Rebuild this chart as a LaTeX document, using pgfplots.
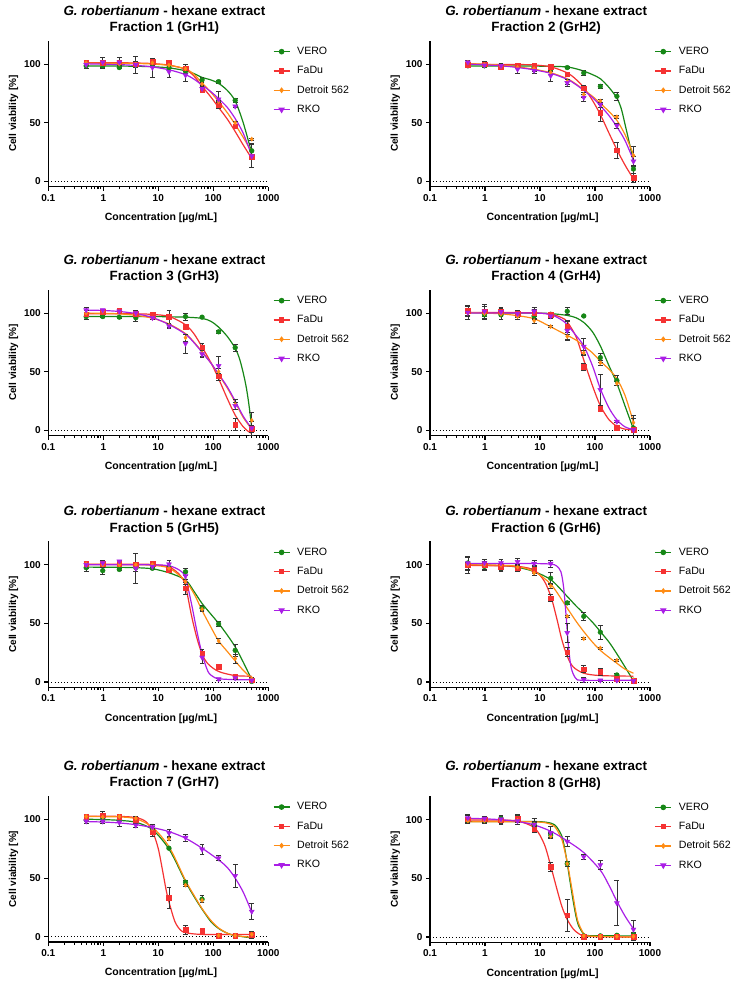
\documentclass[border=0pt]{standalone}
\usepackage{fontspec}
\setmainfont{Liberation Sans}
\usepackage{pgfplots}
\usepackage{pgfplotstable}
\pgfplotsset{compat=1.18}

\definecolor{cV}{RGB}{22,135,22}
\definecolor{cF}{RGB}{245,50,50}
\definecolor{cD}{RGB}{255,140,20}
\definecolor{cR}{RGB}{170,30,230}

% lx = log10 of the concentration (ug/mL); V/F/D/R = VERO, FaDu, Detroit 562, RKO (mean, error)
\pgfplotstableread{
lx V Ve F Fe D De R Re
-0.3116 98.5 2 101.5 2 101 2 99.5 3
-0.0101 98.5 2 101 1 101 1 101.5 4
0.2907 97 1 101.5 1 100 1 101.5 4
0.5918 99 2 100 1 100 2 99.5 7
0.8928 100 1 102 2 101 2 97 8
1.1939 97 1 101.5 1 99 1 93.5 5
1.4949 94 2 96.5 3 96 1 90.5 5
1.7959 86.5 2 78 2 83 2 79 3
2.0969 85 1.5 65 3 68 1 70 7
2.3979 69 1.5 47 1.5 50 1 64 1
2.6990 26 6 21 2 36 1 21.5 10
}\tabA
\pgfplotstableread{
lx V Ve F Fe D De R Re
-0.3116 98.5 1 99.5 1 101.5 2 101.5 2
-0.0101 98.5 1 100 2 99.5 2 99 2
0.2907 98 1 98 2 98 1 98.5 2
0.5918 97.5 1 99 1 97 1 95.5 3
0.8928 97 1 98.5 1 96 2 94.5 2
1.1939 96 2 98 1 93 2 90 5
1.4949 97 1 91.5 1 85 2 84 3
1.7959 92.5 2 79.5 2 74 2 71.5 3
2.0969 81 1.5 58.5 7 68.5 1 65.5 2
2.3979 72.5 3.5 26.5 7 55 1 47.5 2
2.6990 10.5 3.5 3 4 22 8 17 4
}\tabB
\pgfplotstableread{
lx V Ve F Fe D De R Re
-0.3116 97 2 99 2 100 2 102.5 2
-0.0101 97 1 101 1 101.5 1 102.5 1
0.2907 96.5 1 102 2 101 1 101.5 1
0.5918 96 3 99.5 1 99.5 2 100 2
0.8928 98 1 98.5 1 95.5 1 96 1
1.1939 96.5 6 97 2 89.5 2 89 2
1.4949 97 3 88.5 2 79 3 74 8
1.7959 96.5 1 71 3 66 3 65 3
2.0969 84 1 46 3 50 3 55 8
2.3979 70.5 3 5 5 22 4 21 3
2.6990 1.5 6 1.5 3 8.5 7 2 2
}\tabC
\pgfplotstableread{
lx V Ve F Fe D De R Re
-0.3116 101.5 4 102 4 100 2 100.5 6
-0.0101 98.5 4 101.5 4 99.5 2 101.5 6
0.2907 98.5 4 101.5 3 99 2 101 3
0.5918 98 3 99.5 3 97 2 99.5 3
0.8928 97.5 3 100.5 3 93.5 2 101.5 3
1.1939 99 1 98.5 2 88.5 1 97.5 2
1.4949 101.5 3 88.5 5 80 2 85 8
1.7959 97.5 0 54.5 3 66 2 71.5 7
2.0969 62 4 18.5 2 57.5 2 34.5 13
2.3979 42.5 4 2 2 40 2 7.5 1
2.6990 2 8 0.5 2 6.5 6 0.5 1
}\tabD
\pgfplotstableread{
lx V Ve F Fe D De R Re
-0.3116 97.5 3 101 2 100.5 2 100 3
-0.0101 95 3 101 1 100 2 101.5 2
0.2907 96 1 101 1 100 1 103 1
0.5918 97.5 3 100 1 100 2 97 12.5
0.8928 97 1 101 1 100 1 98.5 1
1.1939 97.5 1 96 1 97 1 100.5 3
1.4949 94 3 80 5 85.5 2 90.5 3
1.7959 63 2 24.5 3 62 2 21 5
2.0969 49.5 2 13 2 35 2 2.5 1
2.3979 27 5 5 1 20 4 3.5 1
2.6990 0.5 1 1.5 1 3 1 1.5 1
}\tabE
\pgfplotstableread{
lx V Ve F Fe D De R Re
-0.3116 101.5 6 99.5 7 100 2 101.5 5
-0.0101 98.5 3 99.5 3 100 2 101.5 3
0.2907 97.5 3 98.5 3 99.5 2 101.5 3
0.5918 97 3 97 3 98 2 102.5 3
0.8928 96.5 3 96 3 93 2 101 3
1.1939 88.5 5 71.5 3 82 2 101 3
1.4949 67.5 1 25.5 4 56 1 42 8
1.7959 56 3 11 3 37 1 2 2
2.0969 42.5 6 9 3 29 1 1.5 1
2.3979 6 1 3 1 18.5 1 1.5 1
2.6990 1.5 1 1 1 1.5 1 1 1
}\tabF
\pgfplotstableread{
lx V Ve F Fe D De R Re
-0.3116 99.5 3 102.5 2 102.5 2 98.5 2
-0.0101 101 3 103.5 3 102 2 98.5 2
0.2907 100 2 102.5 2 102.5 2 97.5 3
0.5918 100 3 100 2 101 2 95 2
0.8928 91 3 89 3 92 2 93.5 2
1.1939 75.5 1 33.5 9 83.5 1 88.5 3
1.4949 46.5 2 6 4 44 1 84.5 3
1.7959 32 3 5 1 31 2 74.5 4
2.0969 1 1 1 1 1 1 67 2
2.3979 1 1 1 1 1 1 52 10
2.6990 2 3 1.5 1 2 1 21.5 7
}\tabG
\pgfplotstableread{
lx V Ve F Fe D De R Re
-0.3116 99.5 2 100.5 3 99 2 101.5 3
-0.0101 99.5 2 100.5 2 99 2 101 2
0.2907 101 2 99.5 3 99 2 100.5 3
0.5918 101.5 3 101 3 99.5 2 99 3
0.8928 96 3 92 3 96 2 96 5
1.1939 87 2 60 4 86 2 89 5
1.4949 62.5 2 18.5 14 62.5 2 81.5 4
1.7959 1 1 0.5 1 1 1 68.5 2
2.0969 1 1 0.5 1 0.5 1 61.5 4
2.3979 1.5 1 0.5 1 0.5 1 29 19
2.6990 2 2 0.5 3 0.5 1 6.5 8
}\tabH

\pgfplotsset{
  legend image code/.code={\draw[mark repeat=2, mark phase=2, #1]
      plot coordinates {(0pt,0pt) (8pt,0pt) (16pt,0pt)};},
}

% #1,#2 lower left corner of the axis box (pt); #3 fraction; #4 table; #5-#8 fitted curves (x in log10)
\newcommand{\panel}[8]{%
\begin{axis}[
    at={(#1pt,#2pt)}, anchor=south west,
    scale only axis, width=220pt, height=146pt,
    xmin=-1, xmax=3, ymin=-4.5, ymax=120,
    axis lines=left, axis line style={-, line width=1.3pt},
    tick align=outside, major tick length=4pt, minor tick length=2.5pt,
    tick style={black, line width=1.1pt},
    xtick={-1,0,1,2,3}, xticklabels={0.1,1,10,100,1000},
    minor xtick={-0.6990,-0.5229,-0.3979,-0.3010,-0.2218,-0.1549,-0.0969,-0.0458,
      0.3010,0.4771,0.6021,0.6990,0.7782,0.8451,0.9031,0.9542,
      1.3010,1.4771,1.6021,1.6990,1.7782,1.8451,1.9031,1.9542,
      2.3010,2.4771,2.6021,2.6990,2.7782,2.8451,2.9031,2.9542},
    ytick={0,50,100}, yticklabels={0,50,100},
    tick label style={font=\bfseries\fontsize{10}{12}\selectfont},
    xlabel={Concentration [µg/mL]}, ylabel={Cell viability [\%]},
    xlabel style={font=\bfseries\fontsize{10.5}{12}\selectfont,
      at={(axis description cs:0.512,-0.213)}, anchor=center},
    ylabel style={font=\bfseries\fontsize{10}{12}\selectfont,
      at={(axis description cs:-0.158,0.5)}, anchor=center},
    title={\textit{G. robertianum} - hexane extract\\Fraction #3 (GrH#3)},
    title style={font=\bfseries\fontsize{13.4}{16.5}\selectfont, align=center,
      at={(axis description cs:0.528,1)}, anchor=south, yshift=-3.3pt},
    legend cell align=left,
    legend style={at={(1,1)}, anchor=north west, xshift=1.5pt, yshift=-3pt,
      draw=none, fill=none, font=\fontsize{10.6}{12}\selectfont,
      row sep=7.6pt, nodes={inner sep=1pt, text height=7.7pt, text depth=2pt},
      /tikz/every odd column/.append style={column sep=6pt}},
  ]
\addplot[black, line width=0.9pt, dash pattern=on 0.9pt off 2.3pt, forget plot] coordinates {(-1,0) (3,0)};
\addplot[cV, line width=1.2pt, no marks, smooth, forget plot] coordinates {#5};
\addplot[cF, line width=1.2pt, no marks, smooth, forget plot] coordinates {#6};
\addplot[cD, line width=1.2pt, no marks, smooth, forget plot] coordinates {#7};
\addplot[cR, line width=1.2pt, no marks, smooth, forget plot] coordinates {#8};
\addplot[cV, only marks, mark=*, mark size=2.4pt, forget plot,
  error bars/.cd, y dir=both, y explicit,
  error bar style={black!80, line width=0.7pt},
  error mark options={rotate=90, mark size=2.4pt, black!80, line width=0.7pt}]
  table[x=lx, y=V, y error=Ve] {#4};
\addplot[cF, only marks, mark=square*, mark size=2.3pt, forget plot,
  error bars/.cd, y dir=both, y explicit,
  error bar style={black!80, line width=0.7pt},
  error mark options={rotate=90, mark size=2.4pt, black!80, line width=0.7pt}]
  table[x=lx, y=F, y error=Fe] {#4};
\addplot[cD, only marks, mark=diamond*, mark size=2.1pt, forget plot,
  error bars/.cd, y dir=both, y explicit,
  error bar style={black!80, line width=0.7pt},
  error mark options={rotate=90, mark size=2.4pt, black!80, line width=0.7pt}]
  table[x=lx, y=D, y error=De] {#4};
\addplot[cR, only marks, mark=triangle*, mark size=2.9pt, mark options={rotate=180}, forget plot,
  error bars/.cd, y dir=both, y explicit,
  error bar style={black!80, line width=0.7pt},
  error mark options={rotate=90, mark size=2.4pt, black!80, line width=0.7pt}]
  table[x=lx, y=R, y error=Re] {#4};
\addlegendimage{cV, line width=1.2pt, mark=*, mark size=2.2pt}\addlegendentry{VERO}
\addlegendimage{cF, line width=1.2pt, mark=square*, mark size=2.1pt}\addlegendentry{FaDu}
\addlegendimage{cD, line width=1.2pt, mark=diamond*, mark size=2pt}\addlegendentry{Detroit 562}
\addlegendimage{cR, line width=1.2pt, mark=triangle*, mark size=2.7pt, mark options={rotate=180}}\addlegendentry{RKO}
\end{axis}}

\begin{document}
\begin{tikzpicture}
\useasboundingbox (0,0) rectangle (731pt,-982pt);

\panel{48.3}{-186.6}{1}{\tabA}
 {(-0.3116,98.4)(0,98.4)(0.3010,98.3)(0.6021,98.1)(0.9031,97.7)(1.2041,96.7)(1.4949,94.3)(1.6532,91.8)(1.7959,88.6)(1.9542,86.5)(2.0969,83.5)(2.2553,77.5)(2.3979,68.5)(2.5441,50)(2.6990,24)}
 {(-0.3116,101.2)(0.3010,101.1)(0.6021,100.9)(0.9031,100.4)(1.2041,99)(1.4949,95.5)(1.6532,89.5)(1.7959,81)(1.9542,72)(2.0969,63)(2.2553,53)(2.3979,42.5)(2.5441,31)(2.6990,19.5)}
 {(-0.3116,100.8)(0.3010,100.7)(0.6021,100.5)(0.9031,100)(1.2041,98.8)(1.4949,96)(1.6532,91)(1.7959,84)(1.9542,76)(2.0969,68)(2.2553,58.5)(2.3979,48.5)(2.5441,37.5)(2.6990,25)}
 {(-0.3116,100.2)(0,99.9)(0.3010,99.5)(0.6021,98.8)(0.9031,97.5)(1.2041,95)(1.4949,91)(1.6532,87)(1.7959,82)(1.9542,76.5)(2.0969,70.5)(2.2553,63)(2.3979,53.5)(2.5441,41)(2.6990,22)}

\panel{430}{-186.6}{2}{\tabB}
 {(-0.3116,98.3)(0.6021,98.3)(1.2041,98.1)(1.4949,97.5)(1.6532,96)(1.7959,94)(1.9542,91)(2.0969,87.5)(2.2553,80)(2.3979,71)(2.4771,62)(2.5441,49)(2.6232,33)(2.6990,17)}
 {(-0.3116,99.8)(0.6021,99.6)(0.9031,99.2)(1.2041,97.5)(1.4949,92.5)(1.6532,87)(1.7959,80)(1.9542,69)(2.0969,57)(2.2553,41)(2.3979,27)(2.5441,14)(2.6990,2)}
 {(-0.3116,100.5)(0,99.8)(0.3010,99)(0.6021,97.5)(0.9031,95.5)(1.2041,92.5)(1.4949,87.5)(1.6532,83)(1.7959,78)(1.9542,72.5)(2.0969,66.5)(2.2553,59.5)(2.3979,52)(2.5441,40)(2.6990,23)}
 {(-0.3116,100)(0,99.3)(0.3010,98.5)(0.6021,97)(0.9031,95)(1.2041,92)(1.4949,87)(1.6532,82.5)(1.7959,77.5)(1.9542,71.5)(2.0969,64.5)(2.2553,56)(2.3979,46.5)(2.5441,35)(2.6990,18)}

\panel{48.3}{-435.6}{3}{\tabC}
 {(-0.3116,97)(0.9031,97)(1.2041,96.8)(1.4949,96.5)(1.7959,95.5)(1.9542,93)(2.0969,88)(2.2553,80)(2.3979,70)(2.4771,61)(2.5441,49)(2.6021,36)(2.6532,20)(2.6990,2)}
 {(-0.3116,99.5)(0.6021,99.3)(0.9031,98.8)(1.2041,97)(1.4949,90)(1.6532,82)(1.7959,71)(1.9542,58)(2.0969,44)(2.2553,27)(2.3979,13)(2.5441,3)(2.6532,-1.5)(2.6990,-2.5)}
 {(-0.3116,100)(0,99.8)(0.3010,99.3)(0.6021,98)(0.9031,95.5)(1.2041,90.5)(1.4949,82.5)(1.6532,75)(1.7959,67)(1.9542,57.5)(2.0969,47.5)(2.2553,36)(2.3979,24)(2.5441,11)(2.6990,1)}
 {(-0.3116,102.5)(0,102.2)(0.3010,101.3)(0.6021,99.5)(0.9031,96)(1.2041,90)(1.4949,82)(1.6532,74.5)(1.7959,66.5)(1.9542,57.5)(2.0969,48)(2.2553,37)(2.3979,25)(2.5441,12)(2.6990,1.5)}

\panel{430}{-435.6}{4}{\tabD}
 {(-0.3116,100.2)(0.9031,100)(1.2041,99.5)(1.4949,98)(1.6532,96)(1.7959,92)(1.9542,84)(2.0969,72)(2.2553,55)(2.3979,40)(2.5441,21)(2.6990,1)}
 {(-0.3116,100.5)(0.6021,100.4)(0.9031,100.1)(1.2041,99)(1.3979,96)(1.4949,92.5)(1.6532,80)(1.7959,60)(1.9542,38)(2.0969,21)(2.2553,9)(2.3979,3.5)(2.5441,1)(2.6990,0.3)}
 {(-0.3116,100.5)(0,100)(0.3010,99.3)(0.6021,97.7)(0.9031,95)(1.2041,88)(1.4949,81)(1.6532,77)(1.7959,72)(1.9542,66)(2.0969,59)(2.2553,52)(2.3979,44)(2.5441,30)(2.6990,7)}
 {(-0.3116,100)(0.9031,100)(1.2041,98.5)(1.3979,94)(1.4949,90)(1.6532,81)(1.7959,72)(1.9542,55)(2.0969,35.5)(2.2553,19)(2.3979,9)(2.5441,3)(2.6990,0.5)}

\panel{48.3}{-687.3}{5}{\tabE}
 {(-0.3116,98)(0.3010,97.8)(0.6021,97.5)(0.9031,96.5)(1.2041,93)(1.4949,87)(1.6532,77)(1.7959,67)(1.9542,58)(2.0969,50)(2.2553,40)(2.3979,30)(2.5441,17)(2.6990,2)}
 {(-0.3116,100.5)(0.6021,100.5)(0.9031,100.2)(1.2041,98)(1.3979,91)(1.4949,82)(1.6021,57)(1.6990,38)(1.7959,24)(1.9031,15.5)(2.0969,9)(2.3979,5.5)(2.6990,5)}
 {(-0.3116,100.2)(0.6021,100)(0.9031,99.5)(1.2041,97)(1.4949,86)(1.6532,75)(1.7959,61)(1.9542,47)(2.0969,35)(2.2553,26)(2.3979,18)(2.5441,10)(2.6990,3)}
 {(-0.3116,100)(0.9031,99.9)(1.2041,99)(1.3979,95)(1.4949,89)(1.6021,67)(1.6990,44)(1.7959,24)(1.9031,9)(2,4.5)(2.0969,2.8)(2.3979,2)(2.6990,2)}

\panel{430}{-687.3}{6}{\tabF}
 {(-0.3116,99.7)(0.3010,99.3)(0.6021,97.8)(0.9031,94)(1.2041,87)(1.4949,73)(1.6532,65)(1.7959,58.5)(1.9542,51)(2.0969,43)(2.2553,34)(2.3979,24)(2.5441,13)(2.6990,1)}
 {(-0.3116,99.5)(0.6021,98.5)(0.9031,95)(1.0792,86)(1.2041,72)(1.3010,55)(1.3979,36)(1.4949,22)(1.6021,13)(1.7959,7.5)(2.0969,5.5)(2.6990,5)}
 {(-0.3116,100)(0.3010,99.6)(0.6021,98.5)(0.9031,94)(1.2041,83)(1.4949,63)(1.6532,52)(1.7959,43)(1.9542,34)(2.0969,27)(2.2553,21)(2.3979,16)(2.5441,11)(2.6990,7.5)}
 {(-0.3116,101)(0.9031,101)(1.2041,100.5)(1.3010,99)(1.3802,94)(1.4314,80)(1.4771,55)(1.5185,30)(1.5682,12)(1.6532,3)(1.7959,1.5)(2.6990,1.5)}

\panel{48.3}{-942}{7}{\tabG}
 {(-0.3116,100.2)(0,99.9)(0.3010,99.2)(0.6021,97.5)(0.9031,91)(1.2041,74)(1.4949,47)(1.6532,34)(1.7959,23.5)(1.9542,13)(2.0969,7)(2.2553,3)(2.3979,1)(2.6990,-1)}
 {(-0.3116,102.7)(0.3010,102.6)(0.6021,101.5)(0.7782,98)(0.9031,89)(1,75)(1.0792,56)(1.1461,39)(1.2041,28)(1.3010,13)(1.3979,6)(1.4949,3.5)(1.7959,2)(2.6990,2)}
 {(-0.3116,102.5)(0,102.4)(0.3010,102.2)(0.6021,100.5)(0.9031,93)(1.2041,76)(1.4949,48)(1.6532,35)(1.7959,24)(1.9542,14)(2.0969,7.5)(2.2553,3)(2.3979,1)(2.6990,-0.5)}
 {(-0.3116,98.2)(0,97.8)(0.3010,97)(0.6021,95.5)(0.9031,93)(1.2041,89.5)(1.4949,84)(1.7959,75.5)(2.0969,65.5)(2.2553,59)(2.3979,50)(2.5441,38)(2.6990,21)}

\panel{430}{-942.3}{8}{\tabH}
 {(-0.3116,98.5)(0.9031,98.5)(1.2041,97)(1.3010,94)(1.3979,86)(1.4472,76)(1.4949,63)(1.5441,48)(1.6021,31)(1.6532,18)(1.6990,10)(1.7959,2.5)(1.9031,1.2)(2.6990,1)}
 {(-0.3116,99.8)(0.3010,99.7)(0.6021,98.8)(0.9031,93)(1.0792,79)(1.2041,59)(1.3010,42)(1.3979,26)(1.4949,15)(1.6021,7)(1.6990,3)(1.7959,1)(2,0.3)(2.6990,0)}
 {(-0.3116,98.2)(0.9031,98.2)(1.2041,96)(1.3010,92)(1.3979,83)(1.4472,74)(1.4949,64)(1.5441,51)(1.6021,35)(1.6532,21)(1.6990,12)(1.7959,3)(1.9031,0.8)(2.6990,0)}
 {(-0.3116,101.3)(0,100.8)(0.3010,100)(0.6021,98.5)(0.9031,95.5)(1.2041,90)(1.4949,82)(1.7959,72)(2.0969,57)(2.2553,44)(2.3979,30.5)(2.5441,18)(2.6990,7)}
\end{tikzpicture}
\end{document}
